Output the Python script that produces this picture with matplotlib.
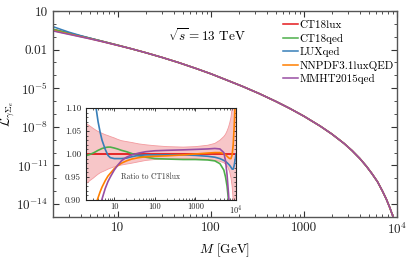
import matplotlib
matplotlib.use("Agg")
import matplotlib.pyplot as plt
from matplotlib.ticker import FixedLocator, FixedFormatter, LogLocator, NullFormatter, MultipleLocator

plt.rcParams['font.family'] = 'serif'
plt.rcParams['font.serif'] = ['cmr10']
plt.rcParams['mathtext.fontset'] = 'cm'
plt.rcParams['axes.formatter.use_mathtext'] = True
plt.rcParams['axes.unicode_minus'] = False

# main panel: photon-lepton luminosity vs M
M_main = [2, 2.5, 3, 4, 5, 7, 10, 14, 20, 30, 45, 70, 100, 150, 220, 330, 500, 700, 1000,
          1500, 2000, 2700, 3300, 4000, 4700, 5400, 6200, 7000, 7700, 8400, 9000, 9500, 10000]
# the sets only differ visibly at low M, the tail (M >= 14) is shared
lumi_tail = [1.15e-2, 5.69e-3, 2.43e-3, 9.75e-4, 3.30e-4, 1.31e-4, 4.11e-5, 1.36e-5, 3.84e-6,
             9.37e-7, 2.75e-7, 6.71e-8, 1.13e-8, 2.75e-9, 5.15e-10, 1.41e-10, 3.43e-11, 8.71e-12,
             2.29e-12, 5.37e-13, 1.02e-13, 2.45e-14, 5.25e-15, 1.32e-15, 3.7e-16, 1.0e-16]
lumi_ct18lux = [0.380, 0.257, 0.187, 0.112, 0.0757, 0.0416, 0.0217] + lumi_tail
lumi_ct18qed = [0.378, 0.257, 0.187, 0.113, 0.0766, 0.0422, 0.0220] + lumi_tail
lumi_luxqed = [0.608, 0.347, 0.221, 0.120, 0.0780, 0.0415, 0.0215] + lumi_tail
lumi_nnpdf = [0.300, 0.213, 0.161, 0.101, 0.0703, 0.0396, 0.0210] + lumi_tail
lumi_mmht = [0.281, 0.198, 0.150, 0.0963, 0.0683, 0.0391, 0.0209] + lumi_tail

# inset: ratio to CT18lux
M_ratio = [2, 2.5, 3, 3.5, 4, 4.5, 5, 6, 7, 8, 10, 12, 15, 20, 27, 40, 60, 100, 200, 500,
           1000, 2000, 3000, 4000, 5000, 5500, 6000, 6500, 7000, 7500, 8000, 8500, 9000, 9500, 10000]
band_up = [1.067, 1.061, 1.056, 1.052, 1.049, 1.047, 1.045, 1.042, 1.040, 1.038, 1.035, 1.032, 1.029,
           1.027, 1.025, 1.022, 1.020, 1.018, 1.016, 1.015, 1.016, 1.019, 1.023, 1.030, 1.038, 1.043,
           1.050, 1.058, 1.068, 1.080, 1.100, 1.140, 1.200, 1.300, 1.400]
band_lo = [0.935, 0.942, 0.947, 0.952, 0.956, 0.959, 0.961, 0.964, 0.967, 0.969, 0.972, 0.974, 0.976,
           0.978, 0.980, 0.983, 0.986, 0.988, 0.989, 0.990, 0.990, 0.988, 0.986, 0.984, 0.981, 0.978,
           0.975, 0.968, 0.960, 0.948, 0.930, 0.900, 0.850, 0.800, 0.750]
r_ct18qed = [0.996, 0.999, 1.002, 1.005, 1.008, 1.010, 1.012, 1.014, 1.015, 1.015, 1.013, 1.011, 1.008,
             1.005, 1.001, 0.996, 0.993, 0.990, 0.989, 0.988, 0.988, 0.987, 0.985, 0.979, 0.965, 0.950,
             0.930, 0.900, 0.860, 0.820, 0.780, 0.750, 0.720, 0.700, 0.680]
r_luxqed = [1.60, 1.35, 1.18, 1.105, 1.07, 1.047, 1.030, 1.010, 0.997, 0.992, 0.990, 0.990, 0.990,
            0.991, 0.994, 0.997, 0.998, 0.998, 0.998, 0.998, 0.997, 0.995, 0.993, 0.990, 0.986, 0.984,
            0.981, 0.978, 0.975, 0.971, 0.967, 0.967, 0.975, 0.988, 1.000]
r_nnpdf = [0.79, 0.83, 0.86, 0.89, 0.905, 0.918, 0.928, 0.942, 0.952, 0.958, 0.968, 0.974, 0.980,
           0.985, 0.989, 0.992, 0.994, 0.995, 0.996, 0.998, 1.000, 1.002, 1.003, 1.003, 1.001, 0.998,
           0.995, 0.992, 0.990, 0.990, 0.998, 1.020, 1.060, 1.110, 1.180]
r_mmht = [0.74, 0.77, 0.80, 0.83, 0.86, 0.885, 0.902, 0.925, 0.940, 0.950, 0.965, 0.975, 0.985,
          0.993, 0.998, 1.002, 1.005, 1.007, 1.008, 1.009, 1.010, 1.011, 1.012, 1.011, 1.003, 0.985,
          0.955, 0.915, 0.870, 0.820, 0.770, 0.730, 0.700, 0.670, 0.650]

labels = ['CT18lux', 'CT18qed', 'LUXqed', 'NNPDF3.1luxQED', 'MMHT2015qed']
colors = ['#e41a1c', '#4daf4a', '#377eb8', '#ff7f00', '#984ea3']

fig = plt.figure(figsize=(4.07, 2.61), dpi=100)
ax = fig.add_axes([0.130, 0.169, 0.845, 0.789])

for lum, lab, c in zip([lumi_ct18lux, lumi_ct18qed, lumi_luxqed, lumi_nnpdf, lumi_mmht], labels, colors):
    ax.plot(M_main, lum, color=c, lw=1.1, label=lab)

ax.set_xscale('log')
ax.set_yscale('log')
ax.set_xlim(2, 1e4)
ax.set_ylim(1e-15, 10)
ax.xaxis.set_major_locator(FixedLocator([10, 100, 1000, 1e4]))
ax.xaxis.set_major_formatter(FixedFormatter(['10', '100', '1000', r'$10^4$']))
ax.xaxis.set_minor_locator(LogLocator(base=10, subs=range(2, 10)))
ax.xaxis.set_minor_formatter(NullFormatter())
ax.yaxis.set_major_locator(FixedLocator([10, 1e-2, 1e-5, 1e-8, 1e-11, 1e-14]))
ax.yaxis.set_major_formatter(FixedFormatter(['10', '0.01', r'$10^{-5}$', r'$10^{-8}$',
                                             r'$10^{-11}$', r'$10^{-14}$']))
ax.yaxis.set_minor_locator(FixedLocator([10.0 ** k for k in range(-15, 2)]))
ax.yaxis.set_minor_formatter(NullFormatter())
ax.tick_params(which='both', direction='in', top=True, right=True, colors='#333333',
               labelcolor='#222222', labelsize=9.5)
ax.tick_params(which='major', length=4, width=0.8)
ax.tick_params(which='minor', length=2, width=0.6)
for s in ax.spines.values():
    s.set_color('#555555')
    s.set_linewidth(1.0)
ax.set_xlabel(r'$M$ [GeV]', fontsize=9.5, labelpad=3)
ax.set_ylabel(r'$\mathcal{L}_{\gamma\Sigma_e}$', fontsize=9.5)
ax.yaxis.set_label_coords(-0.105, 0.5)
ax.text(0.448, 0.883, r'$\sqrt{s}=13$ TeV', transform=ax.transAxes, fontsize=9.5,
        ha='center', va='center')
ax.legend(loc='upper right', bbox_to_anchor=(0.998, 0.966), frameon=False, fontsize=8.0,
          handlelength=1.35, handletextpad=0.12, labelspacing=0.32, borderaxespad=0.0,
          borderpad=0.2)

# inset
ins = fig.add_axes([0.211, 0.234, 0.369, 0.352])
ins.set_facecolor('white')
ins.fill_between(M_ratio, band_lo, band_up, color='#f7c6c8', lw=0)
ins.plot(M_ratio, band_up, color='#f39a9e', lw=0.6)
ins.plot(M_ratio, band_lo, color='#f39a9e', lw=0.6)
ins.plot([M_ratio[0], M_ratio[-1]], [1.0, 1.0], color=colors[0], lw=1.3)
for r, c in zip([r_ct18qed, r_luxqed, r_nnpdf, r_mmht], colors[1:]):
    ins.plot(M_ratio, r, color=c, lw=1.2)
ins.set_xscale('log')
ins.set_xlim(2, 1e4)
ins.set_ylim(0.90, 1.10)
ins.xaxis.set_major_locator(FixedLocator([10, 100, 1000, 1e4]))
ins.xaxis.set_major_formatter(FixedFormatter(['10', '100', '1000', r'$10^4$']))
ins.xaxis.set_minor_locator(LogLocator(base=10, subs=range(2, 10)))
ins.xaxis.set_minor_formatter(NullFormatter())
ins.yaxis.set_major_locator(MultipleLocator(0.05))
ins.yaxis.set_major_formatter(FixedFormatter(['', '0.90', '0.95', '1.00', '1.05', '1.10']))
ins.yaxis.set_minor_locator(MultipleLocator(0.01))
ins.tick_params(which='both', direction='in', top=True, right=True, labelsize=6.5,
                colors='#222222')
ins.tick_params(axis='x', labelsize=6, pad=2)
ins.tick_params(which='major', length=2.5, width=0.6)
ins.tick_params(which='minor', length=1.3, width=0.5)
for s in ins.spines.values():
    s.set_color('#222222')
    s.set_linewidth(0.8)
ins.text(0.43, 0.25, 'Ratio to CT18lux', transform=ins.transAxes, fontsize=5.5, ha='center',
         va='center', color='#333333')

fig.savefig('out.png', dpi=100)
